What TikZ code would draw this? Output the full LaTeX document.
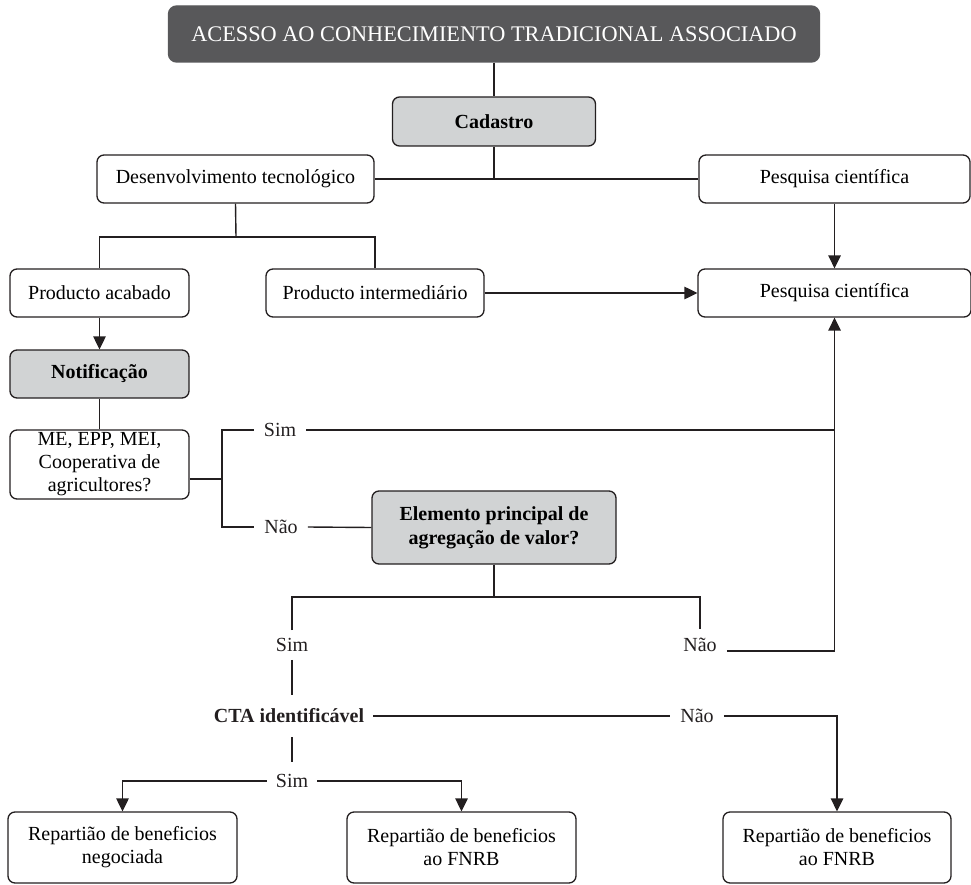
\documentclass[tikz,border=0pt]{standalone}
\usepackage{fontspec}
\setmainfont{Liberation Serif}
\usetikzlibrary{arrows.meta}
\definecolor{titlegray}{HTML}{58585A}
\definecolor{boxgray}{HTML}{D1D3D4}
\definecolor{ink}{HTML}{231F20}
\tikzset{
  txt/.style={font=\fontsize{20}{23}\selectfont},
  box/.style={txt, draw=ink, line width=1.3pt, rounded corners=7pt, inner sep=0pt, align=center, minimum height=48pt},
  gbox/.style={box, fill=boxgray, font=\fontsize{20}{24}\selectfont\bfseries},
  lbl/.style={txt, text=ink, inner xsep=10pt, inner ysep=2pt},
  conn/.style={draw=ink, line width=1.4pt},
  arr/.style={conn, -{Triangle[length=13pt,width=12.5pt]}}
}
\begin{document}
\begin{tikzpicture}[x=1pt,y=-1pt]
\useasboundingbox (0,0) rectangle (971,885);
% boxes
\node[box, fill=titlegray, draw=titlegray, text=white, rounded corners=8pt, minimum width=651pt, minimum height=56pt, font=\fontsize{22.3}{26}\selectfont] (title) at (494,34) {ACESSO AO CONHECIMIENTO TRADICIONAL ASSOCIADO};
\node[gbox, minimum width=203pt, minimum height=49pt] (cad) at (494,121.5) {Cadastro};
\node[box, minimum width=277pt] (des) at (235.5,179) {Desenvolvimento tecnológico};
\node[box, minimum width=271pt] (pes1) at (834.5,179) {Pesquisa científica};
\node[box, minimum width=179pt] (pa) at (99.5,293) {Producto acabado};
\node[box, minimum width=218pt] (pi) at (375,293) {Producto intermediário};
\node[box, minimum width=273pt] (pes2) at (834.5,293) {Pesquisa científica};
\node[gbox, minimum width=179pt] (notif) at (99.5,374) {Notificação};
\node[box, minimum width=179pt, minimum height=69pt] (me) at (99.5,464.5) {ME, EPP, MEI,\\Cooperativa de\\agricultores?};
\node[gbox, minimum width=244pt, minimum height=73pt] (elem) at (494,527.5) {Elemento principal de\\agregação de valor?};
\node[box, minimum width=229pt, minimum height=71pt] (b1) at (122.5,847.5) {Repartião de beneficios\\negociada};
\node[box, minimum width=229pt, minimum height=71pt] (b2) at (461.5,847.5) {Repartião de beneficios\\ao FNRB};
\node[box, minimum width=228pt, minimum height=71pt] (b3) at (837,847.5) {Repartião de beneficios\\ao FNRB};
% labels
\node[lbl] (sim1) at (280,430) {Sim};
\node[lbl] (nao1) at (281,527) {Não};
\node[lbl, inner ysep=8pt] (sim2) at (292,645) {Sim};
\node[lbl, inner ysep=8pt] (nao2) at (700,644.5) {Não};
\node[lbl, inner xsep=9pt, inner ysep=14pt, font=\fontsize{20}{23}\selectfont\bfseries] (cta) at (289,716) {CTA identificável};
\node[lbl] (nao3) at (697,716) {Não};
\node[lbl, inner xsep=9pt, inner ysep=12pt] (sim3) at (292,781) {Sim};
% junctions
\coordinate (j1) at (236,237);
\coordinate (jx) at (222,479);
\coordinate (jy) at (494,597);
% connectors
\draw[conn] (title) -- (cad);
\draw[conn] (cad.south) -- (cad.south |- des.east);
\draw[conn] (des) -- (pes1);
\draw[conn] (des.south) -- (j1);
\draw[conn] (pa.north) -- (pa.north |- j1) -- (pi.north |- j1) -- (pi.north);
\draw[arr] (pi) -- (pes2);
\draw[arr] (pes1) -- (pes2);
\draw[arr] (pa) -- (notif);
\draw[conn] (notif) -- (me);
\draw[conn] (me.east |- jx) -- (jx);
\draw[conn] (sim1.west) -| (jx) |- (nao1.west);
\draw[conn] (sim1.east) -- (sim1.east -| pes2.south);
\draw[arr] (nao2.base east) -| (pes2.south);
\draw[conn] (nao1.east) -- (elem.west);
\draw[conn] (elem.south) -- (jy);
\draw[conn] (sim2.north) -- (sim2.north |- jy) -- (nao2.north |- jy) -- (nao2.north);
\draw[conn] (sim2.south) -- (sim2.south |- cta.north);
\draw[conn] (cta.east) -- (nao3.west);
\draw[arr] (nao3.east) -| (b3.north);
\draw[conn] (sim3.north |- cta.south) -- (sim3.north);
\draw[arr] (sim3.west) -| (b1.north);
\draw[arr] (sim3.east) -| (b2.north);
\end{tikzpicture}
\end{document}
